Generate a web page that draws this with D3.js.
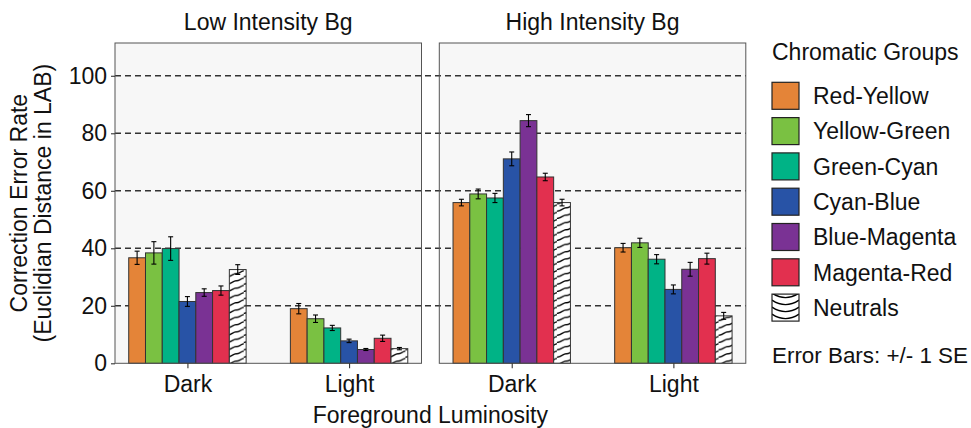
<!DOCTYPE html>
<html>
<head>
<meta charset="utf-8">
<script src="https://cdn.jsdelivr.net/npm/d3@7"></script>
<style>
  html, body { margin: 0; padding: 0; background: #fff; }
  svg { display: block; font-family: "Liberation Sans", Arial, Helvetica, sans-serif; }
</style>
</head>
<body>
<svg id="chart" width="971" height="428"></svg>
<script>
// ---- data ----
const panels = ["Low Intensity Bg", "High Intensity Bg"];
const luminosity = ["Dark", "Light"];
const groups = ["Red-Yellow", "Yellow-Green", "Green-Cyan", "Cyan-Blue", "Blue-Magenta", "Magenta-Red", "Neutrals"];
const groupColors = ["#E48438", "#7AC142", "#00B386", "#2853A6", "#7A3294", "#E2304F", "#FFFFFF"];

// mean error per group, one array per panel x luminosity
const lowDark   = [36.7, 38.4, 39.9, 21.5, 24.6, 25.3, 32.6];
const lowLight  = [19.0, 15.5, 12.3, 7.8, 4.8, 8.7, 5.1];
const highDark  = [55.9, 58.9, 57.5, 71.1, 84.4, 64.8, 55.9];
const highLight = [40.2, 41.9, 36.2, 25.7, 32.7, 36.4, 16.5];

// standard errors, same layout
const lowDarkSE   = [2.3, 3.9, 4.1, 1.7, 1.3, 1.6, 1.7];
const lowLightSE  = [1.8, 1.3, 0.9, 0.6, 0.35, 1.1, 0.4];
const highDarkSE  = [1.15, 1.7, 1.6, 2.4, 2.1, 1.3, 1.15];
const highLightSE = [1.5, 1.6, 1.6, 1.55, 2.4, 1.9, 1.2];

const yTicks = [0, 20, 40, 60, 80, 100];
const yMax = 111.4;

const means = [[lowDark, lowLight], [highDark, highLight]];
const ses = [[lowDarkSE, lowLightSE], [highDarkSE, highLightSE]];

// ---- layout ----
const svg = d3.select("#chart");
const panelX = [115, 439.3];
const panelW = 306.5;
const plotTop = 43, plotBottom = 363.3;
const font = 23;

const y = d3.scaleLinear().domain([0, yMax]).range([plotBottom, plotTop]);
const xLum = d3.scalePoint().domain(luminosity).range([0, panelW]).padding(0.448);
const xGroup = d3.scaleBand().domain(groups).range([-58.7, 58.7]).padding(0);
const color = d3.scaleOrdinal().domain(groups).range(groupColors);

const defs = svg.append("defs");

// panel backgrounds
panels.forEach((p, i) => {
  svg.append("rect")
    .attr("x", panelX[i]).attr("y", plotTop)
    .attr("width", panelW).attr("height", plotBottom - plotTop)
    .attr("fill", "#F7F7F7");
});

// dashed reference lines span both panels
svg.append("g").selectAll("line")
  .data(yTicks.filter(d => d > 0))
  .join("line")
  .attr("x1", panelX[0]).attr("x2", panelX[1] + panelW)
  .attr("y1", d => y(d)).attr("y2", d => y(d))
  .attr("stroke", "#333").attr("stroke-width", 1.6)
  .attr("stroke-dasharray", "6,4");

// hatch path for neutral bars
function hatchPattern(id, x0, w) {
  const pat = defs.append("pattern")
    .attr("id", id)
    .attr("patternUnits", "userSpaceOnUse")
    .attr("x", x0).attr("y", 0)
    .attr("width", w).attr("height", 7.3);
  pat.append("rect").attr("width", w).attr("height", 7.3).attr("fill", "#fff");
  pat.append("path")
    .attr("d", `M-1,6.6 C${w*0.25},7.6 ${w*0.38},2.8 ${w*0.55},3.4 S${w*0.8},1 ${w+1},0.6`)
    .attr("fill", "none").attr("stroke", "#000").attr("stroke-width", 1.3);
}

panels.forEach((p, pi) => {
  const g = svg.append("g").attr("transform", `translate(${panelX[pi]},0)`);

  luminosity.forEach((lum, li) => {
    const cx = xLum(lum);
    const vals = means[pi][li];
    const err = ses[pi][li];
    const rows = groups.map((grp, gi) => ({ grp, v: vals[gi], se: err[gi] }));

    rows.forEach(r => {
      const bx = cx + xGroup(r.grp);
      let fill = color(r.grp);
      if (r.grp === "Neutrals") {
        const id = `hatch-${pi}-${li}`;
        hatchPattern(id, panelX[pi] + bx, xGroup.bandwidth());
        fill = `url(#${id})`;
      }
      g.append("rect")
        .attr("x", bx).attr("y", y(r.v))
        .attr("width", xGroup.bandwidth()).attr("height", y(0) - y(r.v))
        .attr("fill", fill)
        .attr("stroke", "#333").attr("stroke-width", 1);
    });

    // error bars
    const eb = g.append("g").attr("stroke", "#000").attr("stroke-width", 1.1);
    rows.forEach(r => {
      const mx = cx + xGroup(r.grp) + xGroup.bandwidth() / 2;
      const y1 = y(r.v + r.se), y2 = y(r.v - r.se);
      eb.append("line").attr("x1", mx).attr("x2", mx).attr("y1", y1).attr("y2", y2);
      eb.append("line").attr("x1", mx - 2.5).attr("x2", mx + 2.5).attr("y1", y1).attr("y2", y1);
      eb.append("line").attr("x1", mx - 2.5).attr("x2", mx + 2.5).attr("y1", y2).attr("y2", y2);
    });
  });

  // panel border
  g.append("rect")
    .attr("x", 0).attr("y", plotTop)
    .attr("width", panelW).attr("height", plotBottom - plotTop)
    .attr("fill", "none").attr("stroke", "#555").attr("stroke-width", 1);

  // x axis
  const xAxis = g.append("g").attr("transform", `translate(0,${plotBottom})`)
    .call(d3.axisBottom(xLum).tickSize(5).tickPadding(7));
  xAxis.select(".domain").remove();
  xAxis.selectAll(".tick line").attr("stroke", "#333").attr("stroke-width", 1.1);
  xAxis.selectAll(".tick text").attr("font-size", font).attr("fill", "#111")
    .attr("font-family", "Liberation Sans, Arial, sans-serif");

  // strip label
  svg.append("text")
    .attr("x", panelX[pi] + panelW / 2).attr("y", 30)
    .attr("text-anchor", "middle").attr("font-size", font).attr("fill", "#111")
    .text(p);
});

// y axis
const yAxis = svg.append("g").attr("transform", `translate(${panelX[0]},0)`)
  .call(d3.axisLeft(y).tickValues(yTicks).tickSize(4).tickPadding(4));
yAxis.select(".domain").remove();
yAxis.selectAll(".tick line").attr("stroke", "#333").attr("stroke-width", 1.1);
yAxis.selectAll(".tick text").attr("font-size", font).attr("fill", "#111")
  .attr("font-family", "Liberation Sans, Arial, sans-serif");

// axis titles
svg.append("text")
  .attr("x", (panelX[0] + panelX[1] + panelW) / 2).attr("y", 423)
  .attr("text-anchor", "middle").attr("font-size", font).attr("fill", "#111")
  .text("Foreground Luminosity");

const yTitle = svg.append("text")
  .attr("transform", `translate(0,${(plotTop + plotBottom) / 2}) rotate(-90)`)
  .attr("text-anchor", "middle").attr("font-size", font).attr("fill", "#111");
yTitle.append("tspan").attr("x", 0).attr("y", 27).text("Correction Error Rate");
yTitle.append("tspan").attr("x", 0).attr("y", 51).text("(Euclidian Distance in LAB)");

// legend
const lg = svg.append("g").attr("transform", "translate(772,0)");
lg.append("text").attr("x", 0).attr("y", 60)
  .attr("font-size", font).attr("fill", "#111").text("Chromatic Groups");

const keySize = 27, keyStep = 35.3, keyTop = 82.3;
defs.append("clipPath").attr("id", "keyclip")
  .append("rect").attr("width", keySize).attr("height", keySize);

groups.forEach((grp, i) => {
  const k = lg.append("g").attr("transform", `translate(0,${keyTop + i * keyStep})`);
  k.append("rect").attr("width", keySize).attr("height", keySize)
    .attr("fill", color(grp));
  if (grp === "Neutrals") {
    const arcs = k.append("g").attr("clip-path", "url(#keyclip)");
    [-1, 6, 13, 20].forEach(yy => {
      arcs.append("path")
        .attr("d", `M0,${yy} Q${keySize / 2},${yy + 9} ${keySize},${yy}`)
        .attr("fill", "none").attr("stroke", "#000").attr("stroke-width", 1.4);
    });
  }
  k.append("rect").attr("width", keySize).attr("height", keySize)
    .attr("fill", "none").attr("stroke", "#222").attr("stroke-width", 1.2);
  k.append("text").attr("x", 41).attr("y", keySize / 2)
    .attr("dy", "0.36em").attr("font-size", font).attr("fill", "#111").text(grp);
});

lg.append("text").attr("x", 0).attr("y", 363)
  .attr("font-size", 22.4).attr("fill", "#111").text("Error Bars: +/- 1 SE");
</script>
</body>
</html>
